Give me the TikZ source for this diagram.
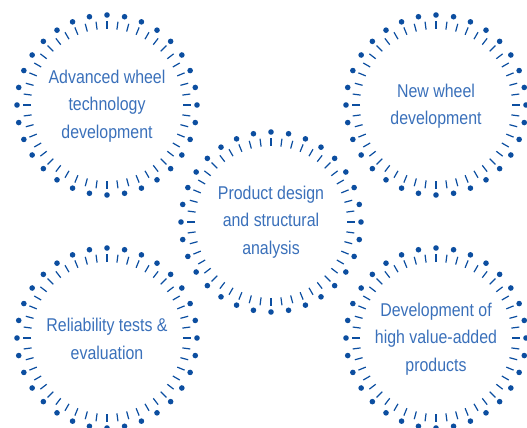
\documentclass[tikz,border=0pt]{standalone}
\usepackage{fontspec}
\setmainfont{Liberation Sans}[FakeStretch=0.86]
\usepackage{tikz}
\usetikzlibrary{positioning}
\definecolor{dotblue}{RGB}{12,78,160}
\definecolor{textblue}{RGB}{58,112,186}

\begin{document}
\begin{tikzpicture}[x=1pt, y=-1pt,
		ringtext/.style={align=center, text=textblue, font=\fontsize{18.5}{27.5}\selectfont}]
			\useasboundingbox (0,0) rectangle (527,428);
			\foreach \cx/\cy in {107/105, 436/105, 271/222, 107/338, 436/338}{
				\foreach \a in {0,11.25,...,359}{
					\fill[dotblue] (\cx,\cy) ++(\a:90) circle (2.8);
				}
				\foreach \a in {0,7.5,...,359}{
					\draw[dotblue, line width=1.2pt] (\cx,\cy) ++(\a:76) -- ++(\a:8);
				}
			}
			\node[ringtext] (advanced) at (107,106) {Advanced wheel\\technology\\development};
			\node[ringtext] (newwheel) at (436,106) {New wheel\\development};
			\node[ringtext] (design) at (271,222) {Product design\\and structural\\analysis};
			\node[ringtext] (reliability) at (107,339) {Reliability tests \&\\evaluation};
			\node[ringtext] (highvalue) at (436,339) {Development of\\high value-added\\products};
		\end{tikzpicture}
\end{document}
